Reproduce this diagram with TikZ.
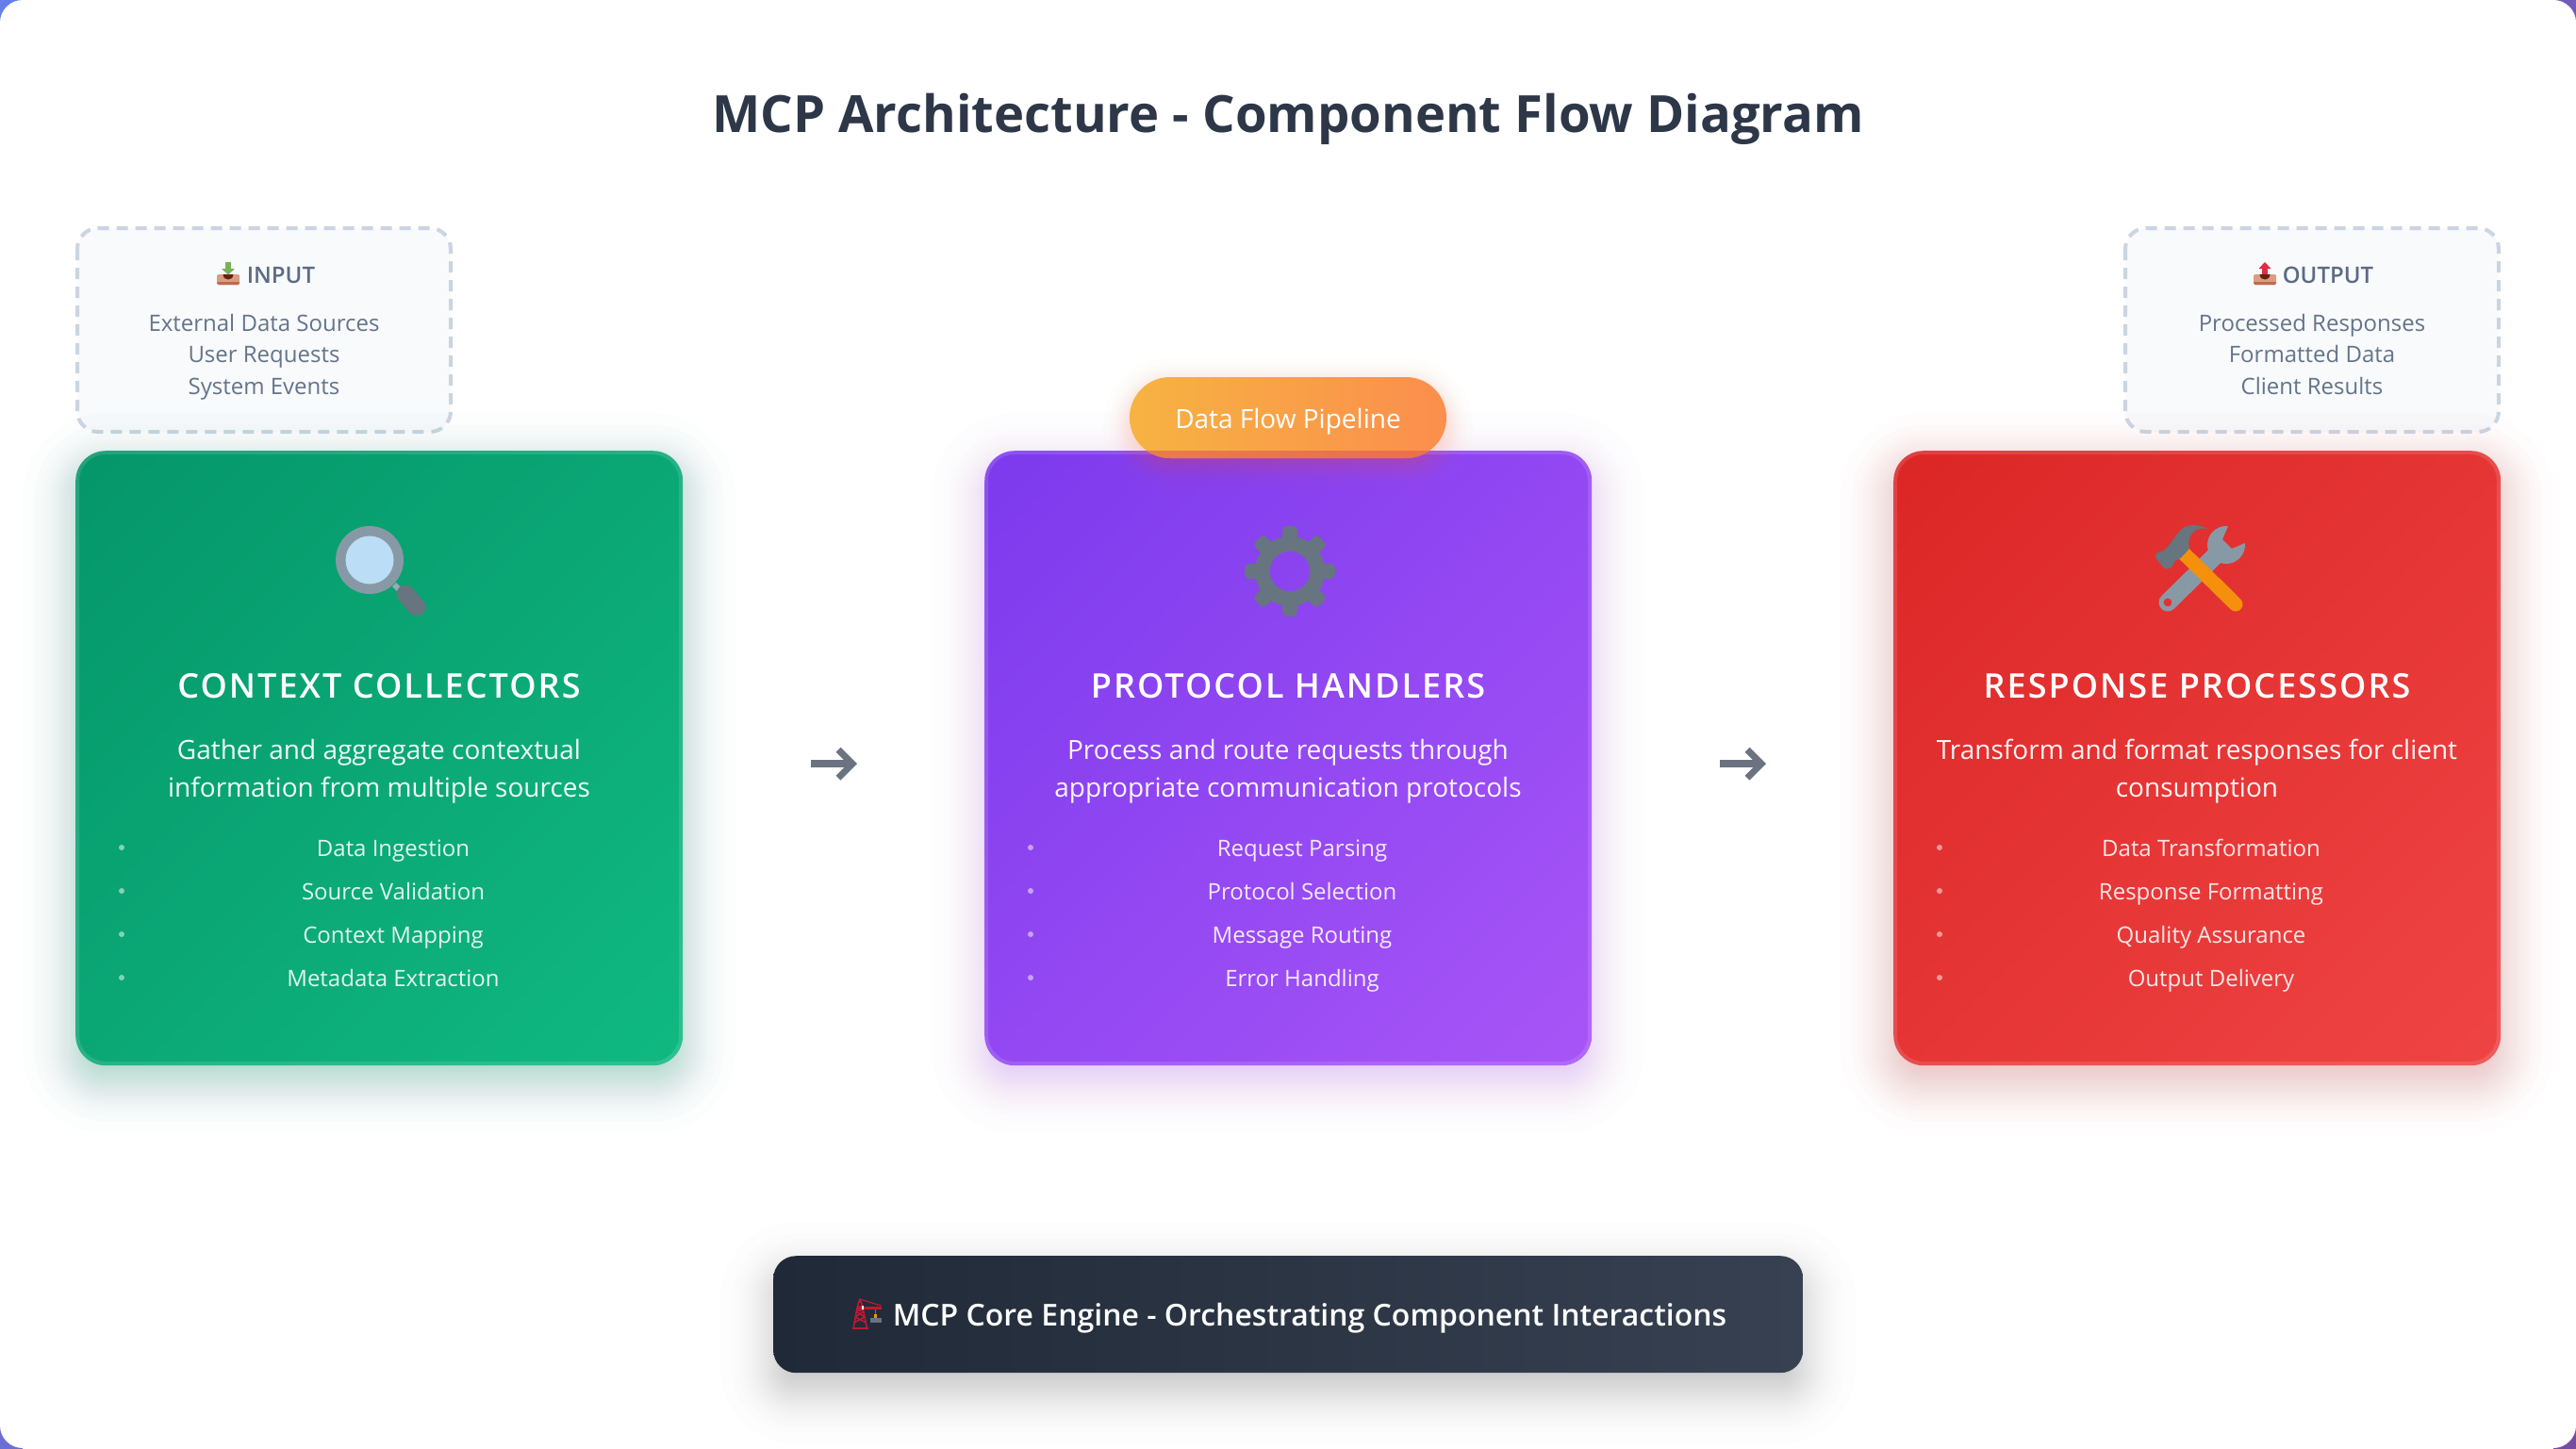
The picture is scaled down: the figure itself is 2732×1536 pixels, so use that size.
\documentclass[tikz,border=0pt]{standalone}
\usepackage{fontspec}
\setmainfont{Open Sans}
\newfontfamily\ossb{Open Sans Semibold}
\usetikzlibrary{calc,arrows.meta}
% ---------- palette
\definecolor{inkDark}{HTML}{2D3748}
\definecolor{boxFill}{HTML}{F8FAFC}
\definecolor{boxEdge}{HTML}{CBD5E1}
\definecolor{boxHead}{HTML}{5C6B82}
\definecolor{boxText}{HTML}{64748B}
\definecolor{arrowInk}{HTML}{6B7280}
\definecolor{greenA}{HTML}{059669}\definecolor{greenB}{HTML}{10B981}
\definecolor{purpleA}{HTML}{7C3AED}\definecolor{purpleB}{HTML}{A855F7}
\definecolor{redA}{HTML}{DC2626}\definecolor{redB}{HTML}{EF4444}
\definecolor{pillA}{HTML}{F7B342}\definecolor{pillB}{HTML}{FB8E4D}
\definecolor{pillEdge}{HTML}{E0604F}
\definecolor{barA}{HTML}{1F2937}\definecolor{barB}{HTML}{374151}
\definecolor{bgA}{HTML}{667EEA}\definecolor{bgB}{HTML}{764BA2}
\definecolor{emoSteel}{HTML}{8899A6}\definecolor{emoDark}{HTML}{66757F}
\definecolor{emoNeck}{HTML}{99AAB5}
\definecolor{emoGlass}{HTML}{BBDDF5}\definecolor{emoOrange}{HTML}{F4900C}
\definecolor{emoTrayA}{HTML}{D99E82}\definecolor{emoTrayB}{HTML}{C1694F}
\definecolor{emoHole}{HTML}{662113}\definecolor{emoGreen}{HTML}{77B255}
\definecolor{emoRed}{HTML}{DD2E44}\definecolor{emoCrane}{HTML}{BE1931}
% corner-to-corner gradients for the square cards
\pgfdeclareverticalshading{gradGreen}{100bp}{color(0bp)=(greenB); color(14.6bp)=(greenB); color(85.4bp)=(greenA); color(100bp)=(greenA)}
\pgfdeclareverticalshading{gradPurple}{100bp}{color(0bp)=(purpleB); color(14.6bp)=(purpleB); color(85.4bp)=(purpleA); color(100bp)=(purpleA)}
\pgfdeclareverticalshading{gradRed}{100bp}{color(0bp)=(redB); color(14.6bp)=(redB); color(85.4bp)=(redA); color(100bp)=(redA)}
% ---------- helpers
\newcommand{\fsz}[1]{\fontsize{#1}{#1}\selectfont}
\newcommand{\softshadow}[8]{% x1 y1 x2 y2 radius sigma colour alpha
  \foreach \zz in {-2.154,-1.676,-1.418,-1.230,-1.078,-0.947,-0.830,-0.724,-0.626,-0.534,-0.445,-0.360,-0.278,-0.197,-0.118,-0.039,0.039,0.118,0.197,0.278,0.360,0.445,0.534,0.626,0.724,0.830,0.947,1.078,1.230,1.418,1.676,2.154}{
    \pgfmathsetmacro{\ee}{\zz*#6}
    \pgfmathsetmacro{\rr}{max(2,#5+\ee)}
    \fill[#7,opacity=#8,rounded corners=\rr pt]
      (#1-\ee,#2-\ee) rectangle (#3+\ee,#4+\ee);
  }}
\newcommand{\traybase}[1]{%
  \fill[emoTrayA,rounded corners=1.5pt] (#1-12,291) rectangle (#1+12,302);
  \fill[emoTrayB,rounded corners=1.5pt] (#1-12,298.5) rectangle (#1+12,302);
  \fill[emoTrayA] (#1-12,297) rectangle (#1+12,299);
  \fill[emoHole] (#1-5.5,291) -- (#1+5.5,291) .. controls (#1+5,295) and (#1+3,296.5) .. (#1,296.5) .. controls (#1-3,296.5) and (#1-5,295) .. (#1-5.5,291) -- cycle;}
\tikzset{
  cardbox/.style={rounded corners=32pt,minimum width=644pt,minimum height=652pt,inner sep=0pt,anchor=north west},
  cardborder/.style={draw=white,draw opacity=.12,line width=4pt,rounded corners=30pt,fill=none},
  cardtitle/.style={anchor=base,text=white,font=\ossb\fsz{36}\addfontfeature{LetterSpace=5.7}},
  carddesc/.style={anchor=base,text=white,text opacity=.95,font=\fsz{28}},
  listitem/.style={anchor=base,text=white,text opacity=.88,font=\fsz{24}},
  bulletdot/.style={fill=white,fill opacity=.5,circle,inner sep=0pt,minimum size=6pt},
  dashbox/.style={draw=boxEdge,fill=boxFill,line width=4pt,dash pattern=on 12pt off 8pt,rounded corners=22pt},
  boxhead/.style={anchor=base,text=boxHead,font=\ossb\fsz{24}},
  boxline/.style={anchor=base,text=boxText,font=\fsz{24}},
  flowarrow/.style={draw=arrowInk,line width=8pt,-{Straight Barb[length=15pt,width=30pt,line width=7pt]}},
}
\begin{document}
\begin{tikzpicture}[x=1pt,y=-1pt]
\useasboundingbox (0,0) rectangle (2732,1536);
% page backdrop
\shade[top color=bgA,bottom color=bgB,shading=axis,shading angle=45] (0,0) rectangle (2732,1536);
\fill[white,rounded corners=24pt] (0,0) rectangle (2732,1536);
\fill[white] (24,-2) rectangle (2708,1538);
\fill[white] (-2,24) rectangle (2734,1512);
% title
\node[anchor=base,text=inkDark,font=\bfseries\fsz{54.4}] (title) at (1366,140) {MCP Architecture - Component Flow Diagram};
% input / output boxes
\draw[dashbox] (82,242) rectangle (478,458);
\draw[dashbox] (2254,242) rectangle (2650,458);
% shadows
\softshadow{80}{494}{724}{1146}{32}{26}{greenA}{0.011}
\softshadow{1044}{494}{1688}{1146}{32}{26}{purpleB}{0.011}
\softshadow{2008}{494}{2652}{1146}{32}{26}{redB}{0.011}
\softshadow{820}{1352}{1912}{1476}{24}{26}{black}{0.0075}
% cards
\node[cardbox,shading=gradGreen,shading angle=45] (c1) at (80,478) {};
\node[cardbox,shading=gradPurple,shading angle=45] (c2) at (1044,478) {};
\node[cardbox,shading=gradRed,shading angle=45] (c3) at (2008,478) {};
\draw[cardborder] (82,480) rectangle (722,1128);
\draw[cardborder] (1046,480) rectangle (1686,1128);
\draw[cardborder] (2010,480) rectangle (2650,1128);
% magnifying glass icon
\draw[emoNeck,line width=6pt] (418,620) -- (430,632);
\draw[emoDark,line width=19pt,line cap=round] (430,630) -- (442,644);
\fill[emoSteel] (392,594) circle[radius=36];
\fill[emoGlass] (392,594) circle[radius=25.5];
% gear icon
\fill[emoDark,even odd rule] (1368,606) circle[radius=37] (1368,606) circle[radius=21.3];
\foreach \aa in {0,45,...,315}{
  \begin{scope}[shift={(1368,606)},rotate=\aa]
    \fill[emoDark,rounded corners=5pt] (30,-8) rectangle (48,8);
  \end{scope}}
% hammer and wrench icon
\begin{scope}[even odd rule]
  \clip (2270,530) rectangle (2410,660)
     (2370.9,539.8) -- (2356.8,572.3) -- (2366.7,582.2) -- (2399.2,568.1) -- cycle
     (2299,639) circle[radius=4.5];
  \draw[emoSteel,line width=19pt,line cap=round] (2361,578) -- (2299,639);
  \fill[emoSteel] (2361,578) circle[radius=20];
\end{scope}
\draw[emoOrange,line width=15pt] (2316,587) -- (2367,637);
\draw[emoOrange,line width=15pt,line cap=round] (2350,620) -- (2371,641);
\fill[emoDark,rounded corners=2pt] (2284.8,590) -- (2288.9,585) -- (2293.3,585) .. controls (2302,578) and (2308,566) .. (2315.4,560) .. controls (2322,556) and (2334,557) .. (2341.8,560.7) .. controls (2333,560) and (2328,562) .. (2325,566) .. controls (2321,571) and (2321,577) .. (2322.2,581.7) -- (2312,592.7) -- (2305.9,595) -- (2303.5,601.7) -- (2298.4,604) -- (2295,602.7) -- cycle;
% tray icons
\traybase{242}
\fill[emoGreen] (238.8,278) rectangle (245.2,285.5);
\fill[emoGreen] (235,285) -- (249,285) -- (242,291.5) -- cycle;
\traybase{2402}
\fill[emoRed] (2398.8,284) rectangle (2405.2,291);
\fill[emoRed] (2395.5,285) -- (2408.5,285) -- (2402,278) -- cycle;
% box text
\node[boxhead] (ih) at (298,300) {INPUT};
\node[boxline] (i1) at (280,351) {External Data Sources};
\node[boxline] (i2) at (280,384.5) {User Requests};
\node[boxline] (i3) at (280,418.5) {System Events};
\node[boxhead] (oh) at (2469,300) {OUTPUT};
\node[boxline] (o1) at (2452,351) {Processed Responses};
\node[boxline] (o2) at (2452,384.5) {Formatted Data};
\node[boxline] (o3) at (2452,418.5) {Client Results};
% card text
\foreach \cx/\nm/\ti/\dA/\dB/\la/\lb/\lc/\ld in {
 402/a/CONTEXT COLLECTORS/Gather and aggregate contextual/information from multiple sources/Data Ingestion/Source Validation/Context Mapping/Metadata Extraction,
 1366/b/PROTOCOL HANDLERS/Process and route requests through/appropriate communication protocols/Request Parsing/Protocol Selection/Message Routing/Error Handling,
 2330/c/RESPONSE PROCESSORS/Transform and format responses for client/consumption/Data Transformation/Response Formatting/Quality Assurance/Output Delivery}{
  \node[cardtitle] (t\nm) at (\cx,740) {\ti};
  \node[carddesc] (d\nm) at (\cx,805) {\dA};
  \node[carddesc] (e\nm) at (\cx,845) {\dB};
  \node[listitem] (l1\nm) at (\cx+15,908.5) {\la};
  \node[listitem] (l2\nm) at (\cx+15,954.5) {\lb};
  \node[listitem] (l3\nm) at (\cx+15,1000.5) {\lc};
  \node[listitem] (l4\nm) at (\cx+15,1046.5) {\ld};
  \node[bulletdot] (b1\nm) at (\cx-273,899) {};
  \node[bulletdot] (b2\nm) at (\cx-273,945) {};
  \node[bulletdot] (b3\nm) at (\cx-273,991) {};
  \node[bulletdot] (b4\nm) at (\cx-273,1037) {};
}
% arrows
\draw[flowarrow] ([xshift=136pt,yshift=-6pt]c1.east) -- ([xshift=-135pt,yshift=-6pt]c2.west);
\draw[flowarrow] ([xshift=136pt,yshift=-6pt]c2.east) -- ([xshift=-135pt,yshift=-6pt]c3.west);
% pill
\softshadow{1198}{408}{1534}{494}{43}{13}{pillB}{0.013}
\shade[left color=pillA,right color=pillB,rounded corners=43pt] (1198,400) rectangle (1534,486);
\begin{scope}
  \clip[rounded corners=43pt] (1198,400) rectangle (1534,486);
  \fill[pillEdge,opacity=.65] (1198,478) rectangle (1534,486);
\end{scope}
\node[anchor=base,text=white,font=\fsz{28}] (pill) at (1366,454) {Data Flow Pipeline};
% bottom bar
\node[rounded corners=24pt,minimum width=1092pt,minimum height=124pt,inner sep=0pt,left color=barA,right color=barB,anchor=north west] (bar) at (820,1332) {};
\node[anchor=base,text=white,font=\ossb\fsz{32}] (bart) at (1389,1406) {MCP Core Engine - Orchestrating Component Interactions};
% crane icon
\draw[emoCrane,line width=1.6pt,line join=bevel] (905,1409) -- (909.5,1385) -- (912,1378) -- (914.5,1385) -- (919.5,1409)
  (906,1403) -- (917,1397) -- (908,1391) -- (915,1386) (918.5,1403) -- (907,1397) -- (916,1391) -- (909,1386);
\fill[emoCrane] (904,1407.5) rectangle (920.5,1410);
\fill[emoCrane] (912,1388) circle[radius=3.2];
\draw[emoCrane,line width=3pt] (914,1387) -- (934.5,1387);
\draw[emoCrane,line width=1.2pt] (912,1378) -- (934.5,1385);
\fill[white] (914,1384.5) rectangle (915.8,1389);
\draw[emoDark,line width=1pt] (928.6,1389) -- (928.6,1395);
\fill[emoOrange] (927.2,1394) rectangle (930,1398);
\fill[emoDark] (922.5,1398) rectangle (934.7,1403);
\end{tikzpicture}
\end{document}
